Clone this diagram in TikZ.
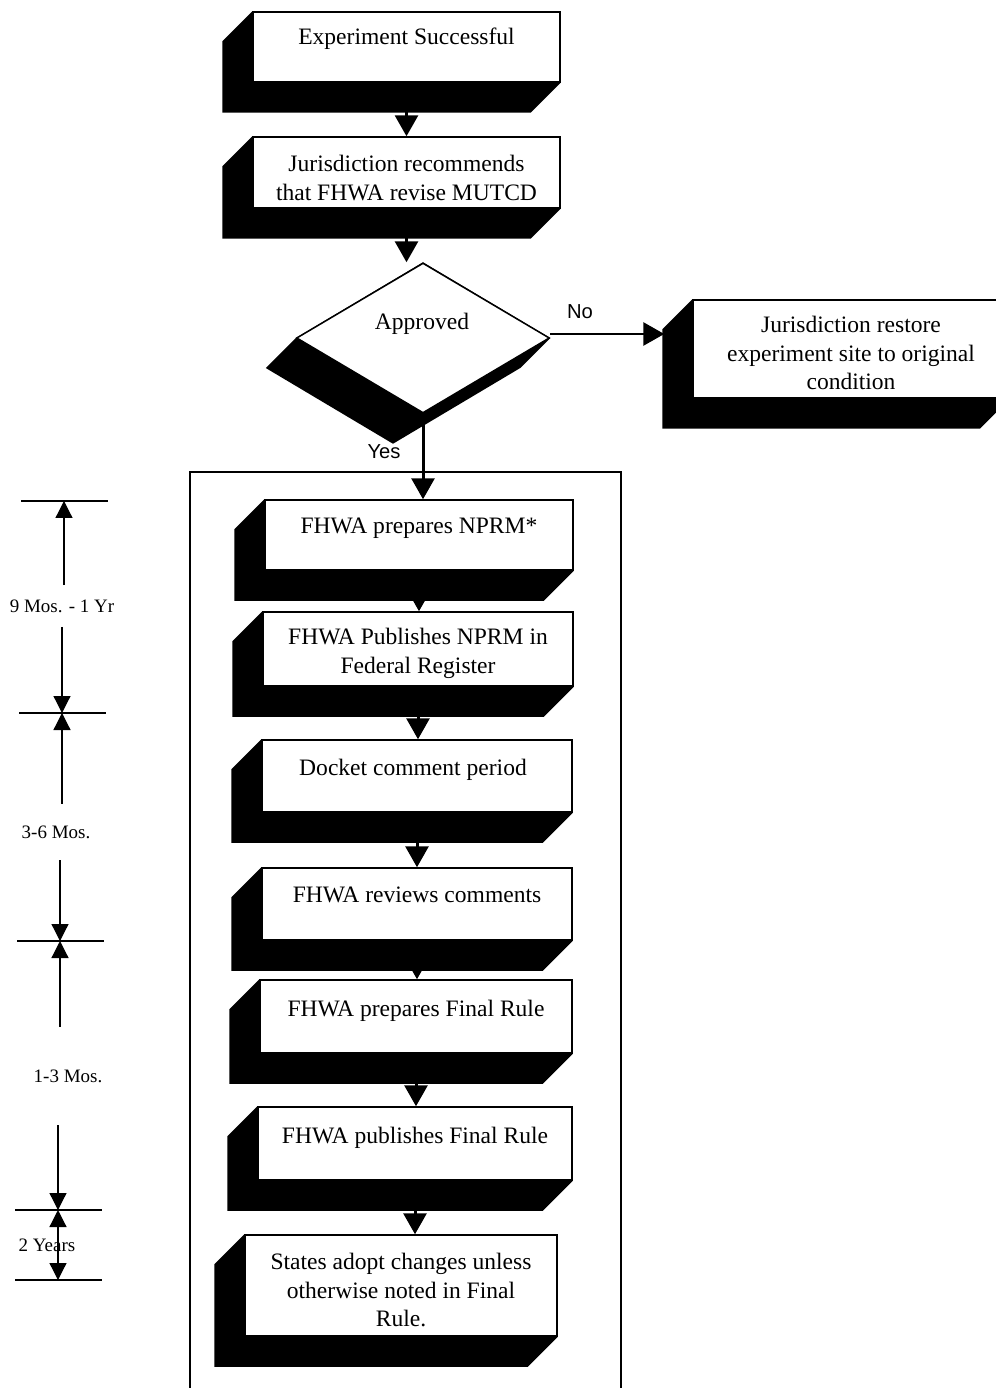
\documentclass[tikz,border=0pt]{standalone}
\usepackage{fontspec}
\setmainfont{Liberation Serif}
\newfontfamily\yesnofont{Liberation Sans}
\usetikzlibrary{arrows.meta,shapes.geometric}
\newcommand{\px}{0.02cm}
\pgfdeclarelayer{links}
\pgfdeclarelayer{slabs}
\pgfsetlayers{links,slabs,main}
% black extrusion behind a box face
\newcommand{\slab}[1]{\fill (#1.north west) -- ++(-30,30) |- ([shift={(-30,30)}]#1.south east) -- (#1.south east) -- cycle;}
\tikzset{
  face/.style={draw, fill=white, line width=0.85pt, inner sep=0pt},
  boxtext/.style={anchor=north, align=center, inner sep=0pt, font=\fontsize{13.4}{16.2}\selectfont},
  conn/.style={line width=1.7pt, -{Triangle[width=0.46cm,length=0.42cm]}},
  dimline/.style={line width=0.7pt, -{Triangle[width=0.34cm,length=0.34cm]}},
  tickline/.style={line width=0.8pt},
  dimtext/.style={inner sep=0pt, font=\fontsize{10.8}{13}\selectfont},
  branch/.style={inner sep=0pt, font=\yesnofont\fontsize{11.5}{13}\selectfont},
}
\begin{document}
\begin{tikzpicture}[x=\px, y=-\px]
\useasboundingbox (0,0) rectangle (996,1388);
% box faces
\node[face, minimum width=307*\px, minimum height=70*\px] (succ) at (406.5,47) {};
\node[face, minimum width=307*\px, minimum height=71*\px] (recom) at (406.5,172.5) {};
\node[face, diamond, minimum width=253*\px, minimum height=150*\px] (appr) at (423,338) {};
\node[face, minimum width=316*\px, minimum height=98*\px] (restore) at (851,349) {};
\node[face, minimum width=308*\px, minimum height=70*\px] (prep) at (419,535) {};
\node[face, minimum width=310*\px, minimum height=74*\px] (publ) at (418,649) {};
\node[face, minimum width=310*\px, minimum height=72*\px] (dock) at (417,776) {};
\node[face, minimum width=310*\px, minimum height=72*\px] (revw) at (417,904) {};
\node[face, minimum width=312*\px, minimum height=73*\px] (final) at (416,1016.5) {};
\node[face, minimum width=314*\px, minimum height=73*\px] (pubfin) at (415,1143.5) {};
\node[face, minimum width=312*\px, minimum height=101*\px] (adopt) at (401,1285.5) {};
% box texts
\node[boxtext] (succtxt) at (406.5,28) {Experiment Successful};
\node[boxtext] (recomtxt) at (406.5,155) {Jurisdiction recommends\\that FHWA revise MUTCD};
\node[boxtext] (apprtxt) at (422,313) {Approved};
\node[boxtext] (restoretxt) at (851,316) {Jurisdiction restore\\experiment site to original\\condition};
\node[boxtext] (preptxt) at (419,518) {FHWA prepares NPRM*};
\node[boxtext] (publtxt) at (418,628) {FHWA Publishes NPRM in\\Federal Register};
\node[boxtext] (docktxt) at (413,759) {Docket comment period};
\node[boxtext] (revwtxt) at (417,887) {FHWA reviews comments};
\node[boxtext] (finaltxt) at (416,1000) {FHWA prepares Final Rule};
\node[boxtext] (pubfintxt) at (415,1127) {FHWA publishes Final Rule};
\node[boxtext] (adopttxt) at (401,1253) {States adopt changes unless\\otherwise noted in Final\\Rule.};
\node[branch] (no) at (580,312) {No};
\node[branch] (yes) at (384,452) {Yes};
% extrusions
\begin{pgfonlayer}{slabs}
\foreach \b in {succ,recom,restore,prep,publ,dock,revw,final,pubfin,adopt}
  \slab{\b};
\fill (appr.north) -- (appr.east) -- ++(-30,30) -- ([shift={(-30,30)}]appr.south) -- ([shift={(-30,30)}]appr.west) -- (appr.west) -- cycle;
\end{pgfonlayer}
% connectors
\begin{pgfonlayer}{links}
\draw[conn] (succ) -- (recom);
\draw[conn] (recom.south) -- (recom.south |- appr.north);
\draw[conn] (appr.south) -- (appr.south |- prep.north);
\draw[conn] (prep.south) -- (prep.south |- publ.north);
\draw[conn] (publ.south) -- (publ.south |- dock.north);
\draw[conn] (dock.south) -- (dock.south |- revw.north);
\draw[conn] (revw.south) -- (revw.south |- final.north);
\draw[conn] (final.south) -- (final.south |- pubfin.north);
\draw[conn] (pubfin.south) -- (pubfin.south |- adopt.north);
\end{pgfonlayer}
\draw[conn, shorten >=0.56cm] ([yshift=0.08cm]appr.east) -- ([yshift=0.08cm]appr.east -| restore.west);
% rulemaking frame
\draw[line width=1.1pt] (190,472) rectangle (621,1400);
% time scale
\coordinate (k1) at (64,501);
\coordinate (k2) at (62,713);
\coordinate (k3) at (60,941);
\coordinate (k4) at (58,1210);
\coordinate (k5) at (58,1280);
\foreach \k in {k1,k2,k3,k4,k5}
  \draw[tickline] ([xshift=-43*\px]\k) -- ([xshift=44*\px]\k);
\node[dimtext, minimum height=41*\px] (span1) at (62,606) {9 Mos. - 1 Yr};
\node[dimtext, minimum height=56*\px] (span2) at (56,832) {3-6 Mos.};
\node[dimtext, minimum height=98*\px] (span3) at (68,1076) {1-3 Mos.};
\node[dimtext] (span4) at (47,1245) {2 Years};
\draw[dimline] (k1 |- span1.north) -- (k1);
\draw[dimline] (k2 |- span1.south) -- (k2);
\draw[dimline] (k2 |- span2.north) -- (k2);
\draw[dimline] (k3 |- span2.south) -- (k3);
\draw[dimline] (k3 |- span3.north) -- (k3);
\draw[dimline] (k4 |- span3.south) -- (k4);
\draw[dimline] (k4 |- span4) -- (k4);
\draw[dimline] (k5 |- span4) -- (k5);
\end{tikzpicture}
\end{document}
